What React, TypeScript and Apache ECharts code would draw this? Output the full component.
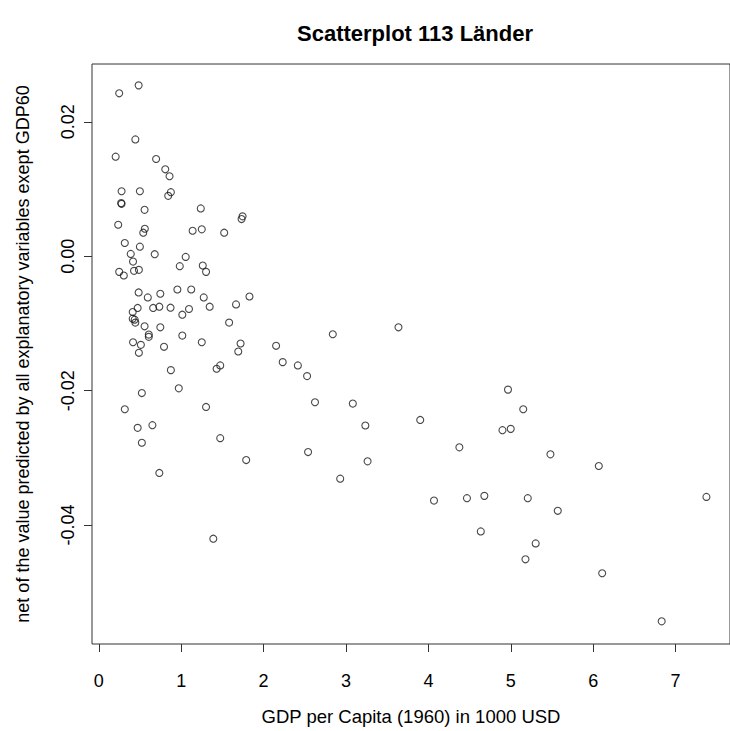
import React, { useEffect, useRef } from "react";
import * as echarts from "echarts";

const chartTitle = "Scatterplot 113 Länder";
const xAxisTitle = "GDP per Capita (1960) in 1000 USD";
const yAxisTitle = "net of the value predicted by all explanatory variables exept GDP60";

const xTicks = [0, 1, 2, 3, 4, 5, 6, 7];
const yTicks = [-0.04, -0.02, 0, 0.02];

// GDP per capita 1960 (1000 USD)
const gdp60 = [
  0.484, 0.248, 0.444, 0.205, 0.696, 0.807, 0.859, 0.277, 0.499, 0.875,
  0.843, 0.272, 0.277, 0.556, 1.238, 1.745, 1.733, 0.236, 0.559, 0.540,
  1.139, 1.250, 1.522, 0.316, 0.499, 0.388, 0.679, 1.055, 0.416, 0.983,
  1.262, 1.302, 0.248, 0.304, 0.428, 0.487, 0.484, 0.595, 0.747, 0.954,
  1.122, 1.274, 1.829, 1.666, 1.346, 0.472, 0.412, 0.660, 0.735, 0.871,
  1.095, 1.014, 0.412, 0.436, 0.444, 0.556, 0.747, 1.582, 0.607, 0.607,
  1.014, 0.416, 0.511, 0.487, 0.792, 1.250, 1.721, 1.693, 2.152, 2.232,
  0.875, 1.474, 1.430, 0.523, 0.971, 0.316, 1.302, 0.472, 0.651, 0.523,
  1.474, 1.789, 0.735, 2.840, 3.637, 2.416, 2.528, 2.624, 3.083, 3.235,
  3.901, 2.540, 3.262, 2.930, 4.376, 4.068, 4.468, 4.966, 5.151, 4.899,
  4.999, 5.481, 6.068, 4.679, 5.206, 5.570, 7.374, 4.636, 5.302, 5.178,
  6.109, 6.831, 1.390,
];

// residual growth net of all explanatory variables except GDP60
const residual = [
  0.02542, 0.02424, 0.01738, 0.01481, 0.01446, 0.01293, 0.0119, 0.00967, 0.00967, 0.00953,
  0.00898, 0.0079, 0.00779, 0.0069, 0.00711, 0.00593, 0.00553, 0.00468, 0.00409, 0.0035,
  0.00379, 0.004, 0.0035, 0.00197, 0.00142, 0.00034, 0.0003, -0.0001, -0.0008, -0.00148,
  -0.00139, -0.00233, -0.00233, -0.00287, -0.00218, -0.00203, -0.00539, -0.00613, -0.00559, -0.00495,
  -0.00495, -0.00613, -0.00599, -0.00717, -0.00751, -0.0077, -0.0083, -0.0077, -0.00751, -0.00766,
  -0.00785, -0.0087, -0.00929, -0.00944, -0.00988, -0.01043, -0.01058, -0.00988, -0.01166, -0.012,
  -0.01181, -0.0128, -0.01319, -0.01437, -0.01348, -0.0128, -0.01299, -0.01418, -0.01333, -0.01576,
  -0.01695, -0.01625, -0.01674, -0.02036, -0.01966, -0.02277, -0.02243, -0.02554, -0.02514, -0.02776,
  -0.02707, -0.03033, -0.03225, -0.01161, -0.01058, -0.01625, -0.01784, -0.02173, -0.02193, -0.02519,
  -0.02436, -0.02914, -0.03052, -0.0331, -0.02844, -0.03636, -0.036, -0.01985, -0.02277, -0.02588,
  -0.02569, -0.02948, -0.03121, -0.03566, -0.036, -0.03788, -0.03581, -0.04095, -0.04273, -0.0451,
  -0.04717, -0.05433, -0.04203,
];

const FONT = "'Liberation Sans', Arial, sans-serif";

export default function App() {
  const ref = useRef<HTMLDivElement>(null);

  useEffect(() => {
    if (!ref.current) return;
    const chart = echarts.init(ref.current, null, { renderer: "svg" });
    const points = gdp60.map((x, i) => [x, residual[i]]);
    chart.setOption({
      animation: false,
      backgroundColor: "#ffffff",
      textStyle: { fontFamily: FONT },
      grid: {
        left: 92,
        top: 64,
        width: 646,
        height: 582.5,
        show: true,
        borderColor: "#333",
        borderWidth: 1,
        backgroundColor: "transparent",
      },
      graphic: [
        {
          type: "text",
          x: 415,
          y: 33,
          style: {
            text: chartTitle,
            fill: "#000",
            font: `bold 22px ${FONT}`,
            textAlign: "center",
            textVerticalAlign: "middle",
          },
        },
      ],
      xAxis: {
        type: "value",
        position: "bottom",
        min: -0.082,
        max: 7.66,
        name: xAxisTitle,
        nameLocation: "middle",
        nameGap: 63,
        nameTextStyle: { fontSize: 18.5, color: "#000", fontFamily: FONT },
        splitLine: { show: false },
        axisLine: { show: false, onZero: false },
        axisTick: { show: true, length: 8, lineStyle: { color: "#333" }, customValues: xTicks },
        axisLabel: {
          fontSize: 18,
          color: "#000",
          margin: 28,
          fontFamily: FONT,
          customValues: xTicks,
          formatter: (v: number) => String(v),
        },
      },
      yAxis: {
        type: "value",
        position: "left",
        min: -0.0577,
        max: 0.0286,
        name: yAxisTitle,
        nameLocation: "middle",
        nameGap: 60,
        nameRotate: 90,
        nameTextStyle: { fontSize: 18, color: "#000", fontFamily: FONT },
        splitLine: { show: false },
        axisLine: { show: false, onZero: false },
        axisTick: { show: true, length: 8, lineStyle: { color: "#333" }, customValues: yTicks },
        axisLabel: {
          fontSize: 18,
          color: "#000",
          margin: 15,
          rotate: 90,
          fontFamily: FONT,
          customValues: yTicks,
          formatter: (v: number) => v.toFixed(2),
        },
      },
      series: [
        {
          type: "scatter",
          data: points,
          symbol: "circle",
          symbolSize: 7,
          itemStyle: { color: "rgba(0,0,0,0)", borderColor: "#1a1a1a", borderWidth: 1.1 },
          emphasis: { disabled: true },
        },
      ],
    });
    return () => chart.dispose();
  }, []);

  return <div ref={ref} style={{ width: 730, height: 731, position: "absolute", left: 0, top: 0 }} />;
}
